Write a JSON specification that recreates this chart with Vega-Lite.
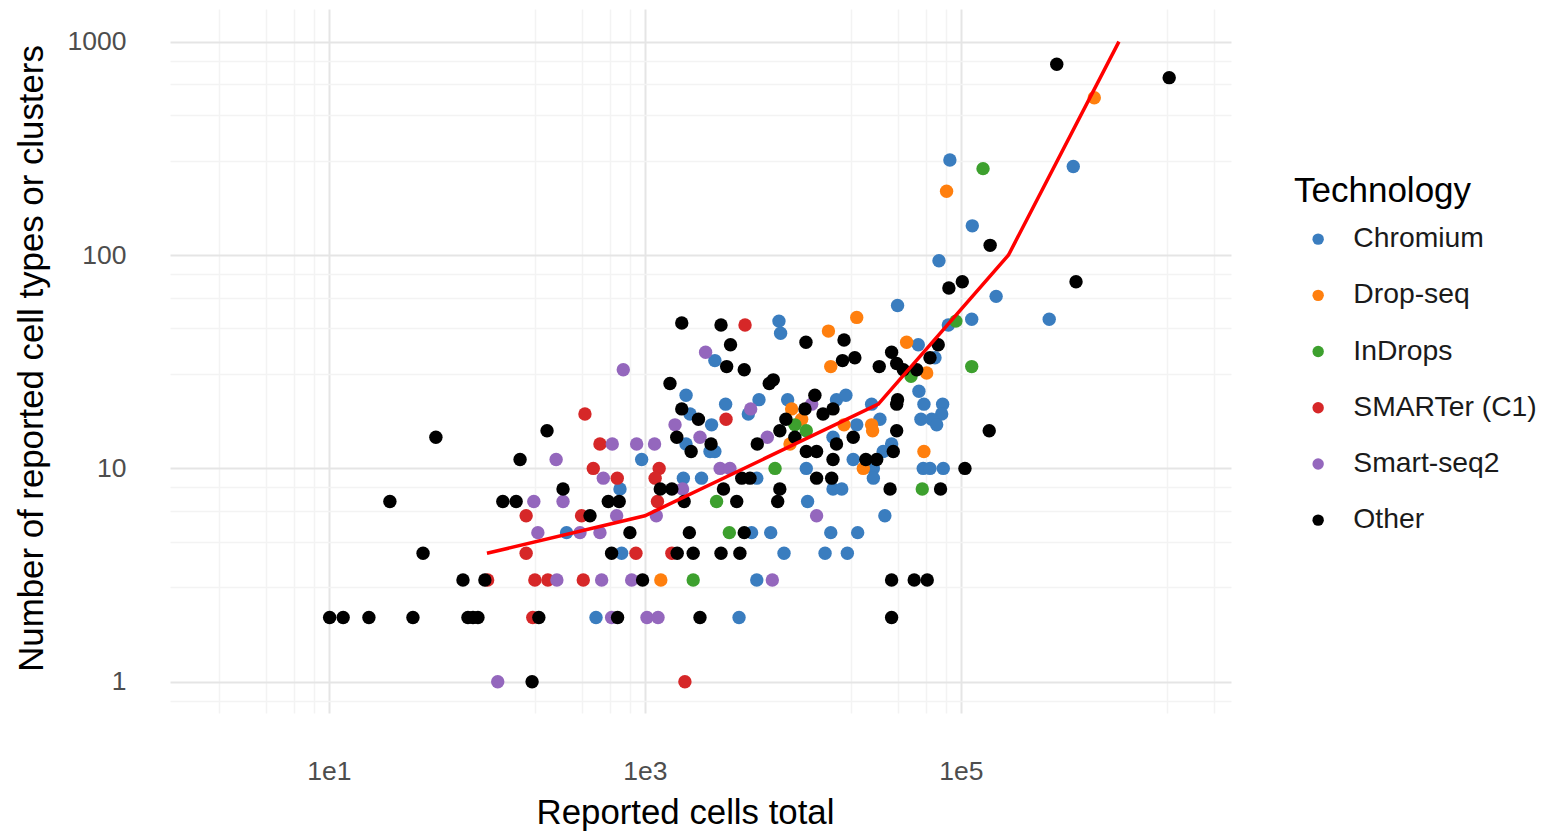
{
"$schema": "https://vega.github.io/schema/vega-lite/v6.json",
"width": 1061, "height": 704,
"autosize": {"type": "none"},
"padding": {"left": 170, "top": 9, "right": 318, "bottom": 118},
"background": "white",
"config": {"view": {"stroke": null}, "font": "Liberation Sans"},
"datasets": {
"points": [
{"tech":"Chromium","cells":2770,"types":32},{"tech":"Chromium","cells":1820,"types":22},{"tech":"Chromium","cells":1930,"types":18},{"tech":"Chromium","cells":2640,"types":16},{"tech":"Chromium","cells":2770,"types":12},{"tech":"Chromium","cells":1820,"types":13},{"tech":"Chromium","cells":3240,"types":20},{"tech":"Chromium","cells":4510,"types":18},{"tech":"Chromium","cells":5270,"types":21},{"tech":"Chromium","cells":7050,"types":49},{"tech":"Chromium","cells":7220,"types":43},{"tech":"Chromium","cells":8000,"types":21},{"tech":"Chromium","cells":16300,"types":21},{"tech":"Chromium","cells":18700,"types":22},{"tech":"Chromium","cells":15500,"types":14},{"tech":"Chromium","cells":2580,"types":12},{"tech":"Chromium","cells":953,"types":11},{"tech":"Chromium","cells":695,"types":8},{"tech":"Chromium","cells":1750,"types":9},{"tech":"Chromium","cells":2280,"types":9},{"tech":"Chromium","cells":5100,"types":9},{"tech":"Chromium","cells":10500,"types":10},{"tech":"Chromium","cells":15500,"types":8},{"tech":"Chromium","cells":17600,"types":8},{"tech":"Chromium","cells":20800,"types":11},{"tech":"Chromium","cells":10700,"types":7},{"tech":"Chromium","cells":319,"types":5},{"tech":"Chromium","cells":4730,"types":5},{"tech":"Chromium","cells":6250,"types":5},{"tech":"Chromium","cells":15000,"types":5},{"tech":"Chromium","cells":22200,"types":5},{"tech":"Chromium","cells":712,"types":4},{"tech":"Chromium","cells":7590,"types":4},{"tech":"Chromium","cells":13800,"types":4},{"tech":"Chromium","cells":19100,"types":4},{"tech":"Chromium","cells":5100,"types":3},{"tech":"Chromium","cells":490,"types":2},{"tech":"Chromium","cells":3940,"types":2},{"tech":"Chromium","cells":39700,"types":58},{"tech":"Chromium","cells":117000,"types":50},{"tech":"Chromium","cells":83200,"types":47},{"tech":"Chromium","cells":362000,"types":50},{"tech":"Chromium","cells":53700,"types":38},{"tech":"Chromium","cells":68500,"types":33},{"tech":"Chromium","cells":54200,"types":23},{"tech":"Chromium","cells":58300,"types":20},{"tech":"Chromium","cells":76600,"types":20},{"tech":"Chromium","cells":75500,"types":18},{"tech":"Chromium","cells":55800,"types":17},{"tech":"Chromium","cells":65300,"types":17},{"tech":"Chromium","cells":70200,"types":16},{"tech":"Chromium","cells":27200,"types":20},{"tech":"Chromium","cells":30700,"types":17},{"tech":"Chromium","cells":21900,"types":16},{"tech":"Chromium","cells":36400,"types":13},{"tech":"Chromium","cells":32200,"types":12},{"tech":"Chromium","cells":27900,"types":10},{"tech":"Chromium","cells":27900,"types":9},{"tech":"Chromium","cells":57700,"types":10},{"tech":"Chromium","cells":63700,"types":10},{"tech":"Chromium","cells":77300,"types":10},{"tech":"Chromium","cells":33000,"types":6},{"tech":"Chromium","cells":85100,"types":279},{"tech":"Chromium","cells":514000,"types":260},{"tech":"Chromium","cells":118000,"types":137},{"tech":"Chromium","cells":72600,"types":94},{"tech":"Chromium","cells":167000,"types":64},
{"tech":"Drop-seq","cells":14500,"types":44},{"tech":"Drop-seq","cells":15000,"types":30},{"tech":"Drop-seq","cells":8480,"types":19},{"tech":"Drop-seq","cells":9810,"types":17},{"tech":"Drop-seq","cells":18200,"types":16},{"tech":"Drop-seq","cells":8280,"types":13},{"tech":"Drop-seq","cells":21900,"types":51},{"tech":"Drop-seq","cells":45300,"types":39},{"tech":"Drop-seq","cells":60700,"types":28},{"tech":"Drop-seq","cells":27200,"types":16},{"tech":"Drop-seq","cells":27600,"types":15},{"tech":"Drop-seq","cells":58300,"types":12},{"tech":"Drop-seq","cells":24100,"types":10},{"tech":"Drop-seq","cells":1260,"types":3},{"tech":"Drop-seq","cells":698000,"types":546},{"tech":"Drop-seq","cells":81100,"types":199},
{"tech":"InDrops","cells":8890,"types":16},{"tech":"InDrops","cells":10500,"types":15},{"tech":"InDrops","cells":6660,"types":10},{"tech":"InDrops","cells":2840,"types":7},{"tech":"InDrops","cells":3420,"types":5},{"tech":"InDrops","cells":2020,"types":3},{"tech":"InDrops","cells":92900,"types":49},{"tech":"InDrops","cells":48300,"types":27},{"tech":"InDrops","cells":117000,"types":30},{"tech":"InDrops","cells":56900,"types":8},{"tech":"InDrops","cells":138000,"types":254},
{"tech":"SMARTer (C1)","cells":195,"types":2},{"tech":"SMARTer (C1)","cells":101,"types":3},{"tech":"SMARTer (C1)","cells":201,"types":3},{"tech":"SMARTer (C1)","cells":243,"types":3},{"tech":"SMARTer (C1)","cells":177,"types":4},{"tech":"SMARTer (C1)","cells":177,"types":6},{"tech":"SMARTer (C1)","cells":417,"types":18},{"tech":"SMARTer (C1)","cells":519,"types":13},{"tech":"SMARTer (C1)","cells":4300,"types":47},{"tech":"SMARTer (C1)","cells":3260,"types":17},{"tech":"SMARTer (C1)","cells":471,"types":10},{"tech":"SMARTer (C1)","cells":668,"types":9},{"tech":"SMARTer (C1)","cells":1230,"types":10},{"tech":"SMARTer (C1)","cells":1160,"types":9},{"tech":"SMARTer (C1)","cells":1200,"types":7},{"tech":"SMARTer (C1)","cells":397,"types":6},{"tech":"SMARTer (C1)","cells":877,"types":4},{"tech":"SMARTer (C1)","cells":1480,"types":4},{"tech":"SMARTer (C1)","cells":407,"types":3},{"tech":"SMARTer (C1)","cells":1790,"types":1},
{"tech":"Smart-seq2","cells":117,"types":1},{"tech":"Smart-seq2","cells":277,"types":3},{"tech":"Smart-seq2","cells":210,"types":5},{"tech":"Smart-seq2","cells":198,"types":7},{"tech":"Smart-seq2","cells":303,"types":7},{"tech":"Smart-seq2","cells":274,"types":11},{"tech":"Smart-seq2","cells":729,"types":29},{"tech":"Smart-seq2","cells":621,"types":13},{"tech":"Smart-seq2","cells":886,"types":13},{"tech":"Smart-seq2","cells":1150,"types":13},{"tech":"Smart-seq2","cells":2420,"types":35},{"tech":"Smart-seq2","cells":1550,"types":16},{"tech":"Smart-seq2","cells":2230,"types":14},{"tech":"Smart-seq2","cells":4670,"types":19},{"tech":"Smart-seq2","cells":5950,"types":14},{"tech":"Smart-seq2","cells":11350,"types":20},{"tech":"Smart-seq2","cells":545,"types":9},{"tech":"Smart-seq2","cells":2990,"types":10},{"tech":"Smart-seq2","cells":3450,"types":10},{"tech":"Smart-seq2","cells":1730,"types":8},{"tech":"Smart-seq2","cells":662,"types":6},{"tech":"Smart-seq2","cells":1180,"types":6},{"tech":"Smart-seq2","cells":12200,"types":6},{"tech":"Smart-seq2","cells":388,"types":5},{"tech":"Smart-seq2","cells":519,"types":5},{"tech":"Smart-seq2","cells":532,"types":3},{"tech":"Smart-seq2","cells":824,"types":3},{"tech":"Smart-seq2","cells":6400,"types":3},{"tech":"Smart-seq2","cells":615,"types":2},{"tech":"Smart-seq2","cells":1030,"types":2},{"tech":"Smart-seq2","cells":1210,"types":2},
{"tech":"Other","cells":10.1,"types":2},{"tech":"Other","cells":12.3,"types":2},{"tech":"Other","cells":17.9,"types":2},{"tech":"Other","cells":34,"types":2},{"tech":"Other","cells":75.8,"types":2},{"tech":"Other","cells":81.6,"types":2},{"tech":"Other","cells":87.7,"types":2},{"tech":"Other","cells":213,"types":2},{"tech":"Other","cells":193,"types":1},{"tech":"Other","cells":70.5,"types":3},{"tech":"Other","cells":97,"types":3},{"tech":"Other","cells":39.4,"types":4},{"tech":"Other","cells":24.3,"types":7},{"tech":"Other","cells":126,"types":7},{"tech":"Other","cells":153,"types":7},{"tech":"Other","cells":303,"types":8},{"tech":"Other","cells":162,"types":11},{"tech":"Other","cells":240,"types":15},{"tech":"Other","cells":47.5,"types":14},{"tech":"Other","cells":1710,"types":48},{"tech":"Other","cells":3030,"types":47},{"tech":"Other","cells":3480,"types":38},{"tech":"Other","cells":3290,"types":30},{"tech":"Other","cells":4250,"types":29},{"tech":"Other","cells":1440,"types":25},{"tech":"Other","cells":1710,"types":19},{"tech":"Other","cells":2180,"types":17},{"tech":"Other","cells":1590,"types":14},{"tech":"Other","cells":2620,"types":13},{"tech":"Other","cells":1960,"types":12},{"tech":"Other","cells":6120,"types":25},{"tech":"Other","cells":6490,"types":26},{"tech":"Other","cells":10450,"types":39},{"tech":"Other","cells":18200,"types":40},{"tech":"Other","cells":17800,"types":32},{"tech":"Other","cells":5140,"types":13},{"tech":"Other","cells":11900,"types":22},{"tech":"Other","cells":10300,"types":19},{"tech":"Other","cells":13400,"types":18},{"tech":"Other","cells":15500,"types":19},{"tech":"Other","cells":7800,"types":17},{"tech":"Other","cells":7140,"types":15},{"tech":"Other","cells":8890,"types":14},{"tech":"Other","cells":10500,"types":12},{"tech":"Other","cells":12200,"types":12},{"tech":"Other","cells":16300,"types":13},{"tech":"Other","cells":15500,"types":11},{"tech":"Other","cells":4100,"types":9},{"tech":"Other","cells":4620,"types":9},{"tech":"Other","cells":7140,"types":8},{"tech":"Other","cells":12200,"types":9},{"tech":"Other","cells":15200,"types":9},{"tech":"Other","cells":586,"types":7},{"tech":"Other","cells":687,"types":7},{"tech":"Other","cells":1250,"types":8},{"tech":"Other","cells":1480,"types":8},{"tech":"Other","cells":1770,"types":7},{"tech":"Other","cells":3140,"types":8},{"tech":"Other","cells":3810,"types":7},{"tech":"Other","cells":6920,"types":7},{"tech":"Other","cells":449,"types":6},{"tech":"Other","cells":803,"types":5},{"tech":"Other","cells":1910,"types":5},{"tech":"Other","cells":4250,"types":5},{"tech":"Other","cells":615,"types":4},{"tech":"Other","cells":1600,"types":4},{"tech":"Other","cells":2020,"types":4},{"tech":"Other","cells":3030,"types":4},{"tech":"Other","cells":3990,"types":4},{"tech":"Other","cells":966,"types":3},{"tech":"Other","cells":671,"types":2},{"tech":"Other","cells":2230,"types":2},{"tech":"Other","cells":71800,"types":38},{"tech":"Other","cells":36400,"types":35},{"tech":"Other","cells":21300,"types":33},{"tech":"Other","cells":30400,"types":30},{"tech":"Other","cells":39200,"types":31},{"tech":"Other","cells":43200,"types":29},{"tech":"Other","cells":52500,"types":29},{"tech":"Other","cells":63700,"types":33},{"tech":"Other","cells":39700,"types":21},{"tech":"Other","cells":39200,"types":20},{"tech":"Other","cells":39200,"types":15},{"tech":"Other","cells":20800,"types":14},{"tech":"Other","cells":151000,"types":15},{"tech":"Other","cells":37300,"types":12},{"tech":"Other","cells":25000,"types":11},{"tech":"Other","cells":29300,"types":11},{"tech":"Other","cells":106000,"types":10},{"tech":"Other","cells":35600,"types":8},{"tech":"Other","cells":74300,"types":8},{"tech":"Other","cells":36400,"types":3},{"tech":"Other","cells":50600,"types":3},{"tech":"Other","cells":61200,"types":3},{"tech":"Other","cells":36400,"types":2},{"tech":"Other","cells":404000,"types":783},{"tech":"Other","cells":2080000,"types":678},{"tech":"Other","cells":153000,"types":111},{"tech":"Other","cells":83900,"types":70},{"tech":"Other","cells":102000,"types":75},{"tech":"Other","cells":535000,"types":75}
],
"trend": [
{"cells":100,"types":4},{"cells":1000,"types":6},{"cells":30000,"types":20},{"cells":200000,"types":100},{"cells":1000000,"types":1000}
]
},
"encoding": {
"x": {"field": "cells", "type": "quantitative",
 "scale": {"type": "log", "domain": [0.986, 5120000], "nice": false, "zero": false},
 "axis": {
  "title": "Reported cells total",
  "values": [2,4,6,8,10,200,400,600,800,1000,20000,40000,60000,80000,100000,2000000,4000000],
  "labelExpr": "datum.value == 10 ? '1e1' : datum.value == 1000 ? '1e3' : datum.value == 100000 ? '1e5' : ''",
  "grid": true,
  "gridColor": {"condition": {"test": "datum.value == 10 || datum.value == 1000 || datum.value == 100000", "value": "#E5E5E5"}, "value": "#F3F3F3"},
  "gridWidth": {"condition": {"test": "datum.value == 10 || datum.value == 1000 || datum.value == 100000", "value": 2}, "value": 1.6},
  "ticks": false, "tickSize": 0, "domain": false,
  "labelFont": "Liberation Sans", "labelFontSize": 26.5, "labelColor": "#4D4D4D", "labelPadding": 45,
  "labelFlush": false, "labelOverlap": false,
  "titleFont": "Liberation Sans", "titleFontSize": 34.8, "titleFontWeight": "normal", "titleColor": "#000000",
  "titleX": 515, "titleY": 110, "titleBaseline": "alphabetic", "titleAlign": "center"
 }},
"y": {"field": "types", "type": "quantitative",
 "scale": {"type": "log", "domain": [0.714, 1422], "nice": false, "zero": false},
 "axis": {
  "title": "Number of reported cell types or clusters",
  "values": [0.815,1,2.77,4.54,6.32,8.15,10,27.7,45.4,63.2,81.5,100,277,454,632,815,1000],
  "labelExpr": "datum.value == 1 ? '1' : datum.value == 10 ? '10' : datum.value == 100 ? '100' : datum.value == 1000 ? '1000' : ''",
  "grid": true,
  "gridColor": {"condition": {"test": "datum.value == 1 || datum.value == 10 || datum.value == 100 || datum.value == 1000", "value": "#E5E5E5"}, "value": "#F3F3F3"},
  "gridWidth": {"condition": {"test": "datum.value == 1 || datum.value == 10 || datum.value == 100 || datum.value == 1000", "value": 2}, "value": 1.6},
  "ticks": false, "tickSize": 0, "domain": false,
  "labelFont": "Liberation Sans", "labelFontSize": 26.5, "labelColor": "#4D4D4D", "labelPadding": 44,
  "labelFlush": false, "labelOverlap": false,
  "titleFont": "Liberation Sans", "titleFontSize": 34.8, "titleFontWeight": "normal", "titleColor": "#000000",
  "titleX": -128, "titleY": 349, "titleAngle": -90, "titleBaseline": "alphabetic", "titleAlign": "center"
 }}
},
"layer": [
{"data": {"name": "points"},
 "mark": {"type": "circle", "size": 180, "opacity": 1},
 "encoding": {
  "color": {"field": "tech", "type": "nominal",
   "scale": {"domain": ["Chromium","Drop-seq","InDrops","SMARTer (C1)","Smart-seq2","Other"],
             "range": ["#3A7DBF","#FF7F0E","#3DA02E","#D62728","#9467BD","#000000"]},
   "legend": {"title": "Technology", "orient": "none", "legendX": 1124, "legendY": 165,
     "padding": 0, "titleFont": "Liberation Sans", "titleFontSize": 35, "titleFontWeight": "normal", "titleColor": "#000000",
     "titlePadding": 16, "labelFont": "Liberation Sans", "labelFontSize": 28.3, "labelColor": "#1A1A1A", "labelLimit": 0,
     "symbolType": "circle", "symbolSize": 130, "symbolStrokeWidth": 0, "symbolOpacity": 1,
     "symbolOffset": 10, "labelOffset": 21, "rowPadding": 27.2}
  }
 }},
{"data": {"name": "trend"},
 "mark": {"type": "line", "color": "#FF0000", "strokeWidth": 3.5},
 "encoding": {}}
]
}
